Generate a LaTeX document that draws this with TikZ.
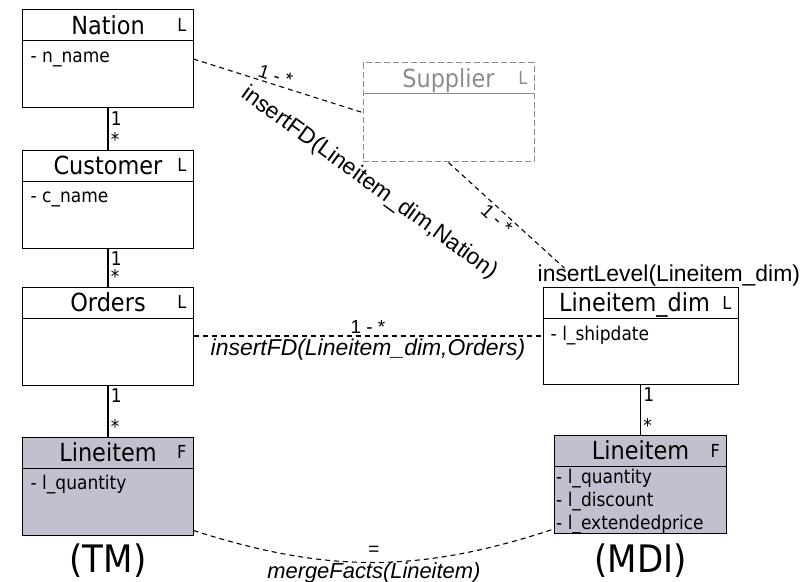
\documentclass[tikz,border=0pt]{standalone}
\usepackage{fontspec}
\setmainfont{Liberation Sans}
\newfontfamily\boxfont{DejaVu Sans Condensed}
\usepackage{tikz}
\usetikzlibrary{positioning, calc}
\usepackage{xcolor}

\definecolor{factfill}{RGB}{192,192,207}
\definecolor{ghost}{RGB}{140,140,140}

\begin{document}
\begin{tikzpicture}[
  x=1bp, y=1bp,
  cls/.style  = {draw, line width=1bp, minimum width=170bp, minimum height=98bp, inner sep=0pt,
                 path picture={\draw[solid, line width=1bp]
                   ([yshift=-31bp]path picture bounding box.north west) --
                   ([yshift=-31bp]path picture bounding box.north east);}},
  fact/.style = {cls, fill=factfill},
  ttl/.style  = {anchor=north, minimum height=31bp, inner sep=0pt, text height=18bp, text depth=0bp,
                 font=\boxfont\fontsize{25}{30}\selectfont},
  lvl/.style  = {anchor=north east, minimum height=31bp, inner xsep=7bp, inner ysep=0pt,
                 text height=13bp, text depth=0bp, font=\boxfont\fontsize{18}{21}\selectfont},
  attr/.style = {anchor=north west, yshift=-31bp, inner xsep=8bp, inner ysep=3bp,
                 text height=19bp, text depth=5bp, font=\boxfont\fontsize{19}{23}\selectfont},
  attrs/.style= {anchor=north west, yshift=-31bp, inner xsep=2bp, inner ysep=3bp, align=left,
                 font=\boxfont\fontsize{19}{23}\selectfont},
  mult/.style = {inner sep=2bp, font=\boxfont\fontsize{19}{22}\selectfont},
  card/.style = {inner sep=2bp, font=\fontsize{19}{22}\selectfont},
  lbl/.style  = {inner sep=2bp, font=\fontsize{23}{27}\selectfont},
  big/.style  = {inner sep=0pt, font=\boxfont\fontsize{38}{44}\selectfont},
  lnk/.style  = {line width=1.6bp},
  dsh/.style  = {line width=1.1bp, dash pattern=on 5bp off 4bp},
]
\useasboundingbox (0,0) rectangle (811,-582);

% ── TM: Nation / Customer / Orders / Lineitem ────────────────────────────────
\node[cls, label={[ttl]north:Nation}, label={[lvl]north east:L},
      label={[attr]north west:- n\_name}] (nation) at (108,-59) {};
\node[cls, below=41bp of nation, label={[ttl]north:Customer}, label={[lvl]north east:L},
      label={[attr]north west:- c\_name}] (customer) {};
\node[cls, below=38bp of customer, label={[ttl]north:Orders}, label={[lvl]north east:L}] (orders) {};
\node[fact, below=51bp of orders, label={[ttl]north:Lineitem}, label={[lvl]north east:F},
      label={[attr]north west:- l\_quantity}] (lit) {};

\draw[lnk] (nation) -- (customer)
   node[pos=0, anchor=north west, mult] {1} node[pos=1, anchor=south west, mult] {*};
\draw[lnk] (customer) -- (orders)
   node[pos=0, anchor=north west, mult] {1} node[pos=1, anchor=south west, mult] {*};
\draw[lnk] (orders) -- (lit)
   node[pos=0, anchor=north west, mult] {1} node[pos=1, anchor=south west, mult] {*};

\node[big] (tm) at ([yshift=-25bp]lit.south) {(TM)};

% ── MDI: Lineitem_dim / Lineitem ─────────────────────────────────────────────
\node[cls, minimum width=195bp, minimum height=97bp, right=349bp of orders,
      label={[ttl, xshift=-6bp]north:Lineitem\_dim}, label={[lvl]north east:L},
      label={[attr]north west:- l\_shipdate}] (dim) {};
\node[fact, minimum width=172bp, below=50bp of dim, label={[ttl]north:Lineitem},
      label={[lvl]north east:F},
      label={[attrs]north west:{- l\_quantity\\- l\_discount\\- l\_extendedprice}}] (lim) {};

\draw[lnk] (dim) -- (lim)
   node[pos=0, anchor=north west, mult] {1} node[pos=1, anchor=south west, mult] {*};

\node[big] (mdi) at ([yshift=-27bp]lim.south) {(MDI)};

\node[lbl, anchor=south west, inner sep=1bp] (insl) at ([xshift=-6bp]dim.north west)
      {insertLevel(Lineitem\_dim)};

% ── Supplier (dropped level) ─────────────────────────────────────────────────
\node[cls, draw=ghost, dash pattern=on 6bp off 3bp, minimum width=171bp, minimum height=99bp,
      label={[ttl, text=ghost]north:Supplier}, label={[lvl, text=ghost]north east:L}]
      (supplier) at (448.5,-112.5) {};

% ── Evolution links ──────────────────────────────────────────────────────────
\draw[dsh] (nation.east) -- (supplier.west)
   node[pos=.47, sloped, above, card] {1 - *}
   node[pos=.34, anchor=north west, rotate=-36, lbl, yshift=-3bp] {insertFD(Lineitem\_dim,Nation)};

\draw[dsh] (supplier.south) -- ([xshift=28bp, yshift=-5bp]insl.north west)
   node[pos=.47, sloped, below, card] {1 - *};

\draw[dsh] (orders.east) -- (dim.west)
   node[midway, above, card] {1 - *}
   node[midway, below, lbl, font=\itshape\fontsize{23}{27}\selectfont] {insertFD(Lineitem\_dim,Orders)};

\draw[dsh] ([yshift=5bp]lit.south east) to[bend right=18]
   node[midway, above, card, inner sep=6bp] {=}
   node[midway, below, lbl, inner sep=0pt, font=\itshape\fontsize{22}{26}\selectfont] {mergeFacts(Lineitem)}
   ([yshift=5bp]lim.south west);

\end{tikzpicture}
\end{document}
